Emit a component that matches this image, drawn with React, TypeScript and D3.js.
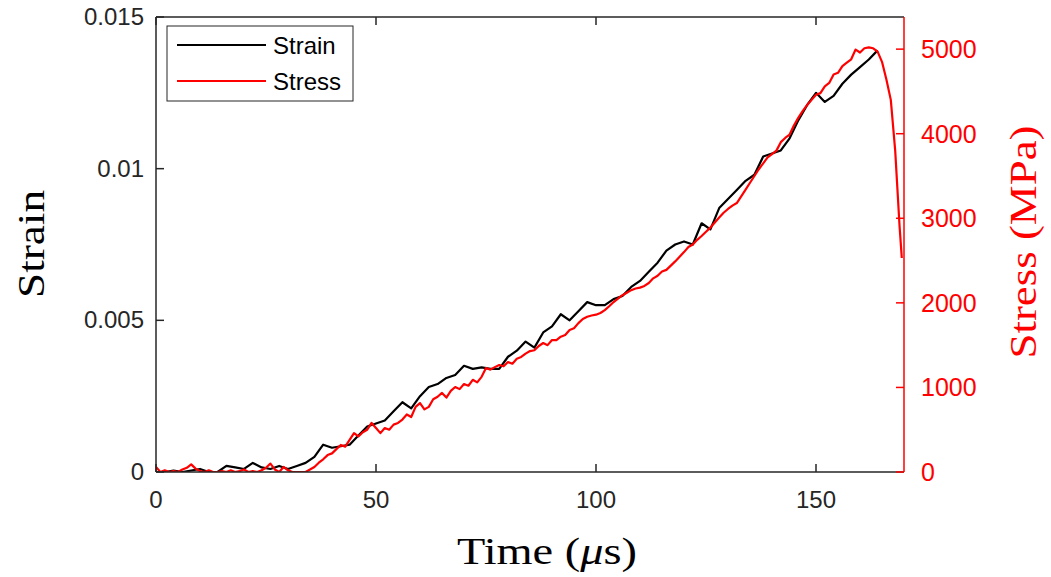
import React from "react";
import * as d3 from "d3";

const strainTime: number[] = d3.range(0, 165, 2);
const strainValues: number[] = [
  0, 0, 0.00005, 0, 0.00005, 0.0001, 0, 0, 0.0002, 0.00015,
  0.0001, 0.0003, 0.00015, 0.0001, 0.0002, 0.0001, 0.0002, 0.0003, 0.0005, 0.0009,
  0.0008, 0.00085, 0.0009, 0.0012, 0.0015, 0.0016, 0.0017, 0.002, 0.0023, 0.0021,
  0.0025, 0.0028, 0.0029, 0.0031, 0.0032, 0.0035, 0.0034, 0.00345, 0.0034, 0.0034,
  0.0038, 0.004, 0.0043, 0.0041, 0.0046, 0.0048, 0.0052, 0.005, 0.0053, 0.0056,
  0.0055, 0.0055, 0.0057, 0.0058, 0.0061, 0.0063, 0.0066, 0.0069, 0.0073, 0.0075,
  0.0076, 0.0075, 0.0082, 0.008, 0.0087, 0.009, 0.0093, 0.0096, 0.0098, 0.0104,
  0.0105, 0.0106, 0.011, 0.0116, 0.0121, 0.0125, 0.0122, 0.0124, 0.0128, 0.0131,
  0.01335, 0.0136, 0.0139,
];

const stressTime: number[] = [...d3.range(0, 170, 1), 169.5];
const stressValues: number[] = [
  60, 0, 20, 0, 10, 0, 30, 50, 90, 40, 10, 0, 20, 0, 0, 10, 0, 20, 0, 10,
  30, 0, 10, 0, 20, 50, 100, 30, 0, 60, 20, 0, 0, 0, 0, 30, 60, 110, 150, 200,
  220, 270, 320, 300, 380, 460, 420, 470, 500, 580, 520, 460, 520, 500, 560, 580, 620, 680, 650, 770,
  815, 740, 770, 860, 890, 935, 880, 960, 1005, 980, 1040, 1020, 1090, 1060, 1125, 1230, 1210, 1240, 1265, 1250,
  1300, 1280, 1340, 1360, 1400, 1430, 1440, 1490, 1525, 1500, 1560, 1560, 1600, 1620, 1680, 1700, 1760, 1810, 1835, 1850,
  1860, 1880, 1915, 1960, 2010, 2050, 2090, 2120, 2150, 2170, 2180, 2200, 2235, 2290, 2320, 2370, 2390, 2440, 2490, 2545,
  2600, 2660, 2690, 2745, 2790, 2840, 2890, 2950, 3010, 3065, 3110, 3150, 3180, 3260, 3340, 3420, 3500, 3580, 3650, 3720,
  3760, 3800, 3900, 3950, 3990, 4100, 4190, 4270, 4340, 4400, 4460, 4480, 4560, 4600, 4700, 4720, 4800, 4840, 4880, 4995,
  4960, 5010, 5020, 5010, 4970, 4850, 4640, 4400, 3800, 2900, 2530,
];

const xTicks: number[] = [0, 50, 100, 150];
const yLeftTicks: number[] = [0, 0.005, 0.01, 0.015];
const yLeftTickLabels: string[] = ["0", "0.005", "0.01", "0.015"];
const yRightTicks: number[] = [0, 1000, 2000, 3000, 4000, 5000];
const legendLabels: string[] = ["Strain", "Stress"];

const W = 1051;
const H = 577;
const left = 156;
const right = 904;
const top = 17;
const bottom = 472;
const sans = "'Liberation Sans', Arial, Helvetica, sans-serif";
const serif = "'Liberation Serif', 'DejaVu Serif', serif";
const axisColor = "#262626";
const red = "#ff0000";

export default function App() {
  const x = d3.scaleLinear().domain([0, 170]).range([left, right]);
  const yL = d3.scaleLinear().domain([0, 0.015]).range([bottom, top]);
  const yR = d3.scaleLinear().domain([0, 5380]).range([bottom, top]);

  const strainLine = d3
    .line<number>()
    .x((_, i) => x(strainTime[i]))
    .y((d) => yL(d))(strainValues) as string;
  const stressLine = d3
    .line<number>()
    .x((_, i) => x(stressTime[i]))
    .y((d) => yR(d))(stressValues) as string;

  const tickLen = 8;
  const fs = 24;

  return (
    <svg width={W} height={H} style={{ position: "absolute", left: 0, top: 0, background: "#fff" }}>
      <rect x={0} y={0} width={W} height={H} fill="#fff" />
      <defs>
        <clipPath id="plotclip">
          <rect x={left} y={top} width={right - left} height={bottom - top} />
        </clipPath>
      </defs>
      <g clipPath="url(#plotclip)">
        <path d={strainLine} fill="none" stroke="#000" strokeWidth={2.2} strokeLinejoin="round" />
        <path d={stressLine} fill="none" stroke={red} strokeWidth={2.2} strokeLinejoin="round" />
      </g>
      <line x1={left} x2={right} y1={bottom} y2={bottom} stroke={axisColor} strokeWidth={1.5} />
      <line x1={left} x2={right} y1={top} y2={top} stroke={axisColor} strokeWidth={1.5} />
      <line x1={left} x2={left} y1={top} y2={bottom} stroke={axisColor} strokeWidth={1.5} />
      <line x1={right} x2={right} y1={top} y2={bottom} stroke={red} strokeWidth={1.5} />
      {xTicks.map((t) => (
        <g key={"x" + t}>
          <line x1={x(t)} x2={x(t)} y1={bottom} y2={bottom - tickLen} stroke={axisColor} strokeWidth={1.5} />
          <line x1={x(t)} x2={x(t)} y1={top} y2={top + tickLen} stroke={axisColor} strokeWidth={1.5} />
          <text x={x(t)} y={bottom + 36} textAnchor="middle" fontFamily={sans} fontSize={fs} fill={axisColor}>
            {t}
          </text>
        </g>
      ))}
      {yLeftTicks.map((t, i) => (
        <g key={"yl" + t}>
          <line x1={left} x2={left + tickLen} y1={yL(t)} y2={yL(t)} stroke={axisColor} strokeWidth={1.5} />
          <text x={left - 12} y={yL(t) + 8} textAnchor="end" fontFamily={sans} fontSize={fs} fill={axisColor}>
            {yLeftTickLabels[i]}
          </text>
        </g>
      ))}
      {yRightTicks.map((t) => (
        <g key={"yr" + t}>
          <line x1={right} x2={right - tickLen} y1={yR(t)} y2={yR(t)} stroke={red} strokeWidth={1.5} />
          <text x={right + 17} y={yR(t) + 9} textAnchor="start" fontFamily={sans} fontSize={25} fill={red}>
            {t}
          </text>
        </g>
      ))}
      <text x={547} y={564} textAnchor="middle" fontFamily={serif} fontSize={37} fill="#000"
        textLength={180} lengthAdjust="spacingAndGlyphs">
        Time (<tspan fontStyle="italic">μ</tspan>s)
      </text>
      <text
        transform={`translate(44, 244) rotate(-90)`}
        textAnchor="middle"
        fontFamily={serif}
        fontSize={37}
        fill="#000"
        textLength={108}
        lengthAdjust="spacingAndGlyphs"
      >
        Strain
      </text>
      <text
        transform={`translate(1036, 242) rotate(-90)`}
        textAnchor="middle"
        fontFamily={serif}
        fontSize={37}
        fill={red}
        textLength={233}
        lengthAdjust="spacingAndGlyphs"
      >
        Stress (MPa)
      </text>
      <rect x={167} y={26} width={186} height={75} fill="#fff" stroke={axisColor} strokeWidth={1} />
      <line x1={177} x2={266} y1={45} y2={45} stroke="#000" strokeWidth={2.2} />
      <line x1={177} x2={266} y1={81} y2={81} stroke={red} strokeWidth={2.2} />
      <text x={273} y={54} fontFamily={sans} fontSize={24} fill="#000">
        {legendLabels[0]}
      </text>
      <text x={273} y={90} fontFamily={sans} fontSize={24} fill="#000">
        {legendLabels[1]}
      </text>
    </svg>
  );
}
